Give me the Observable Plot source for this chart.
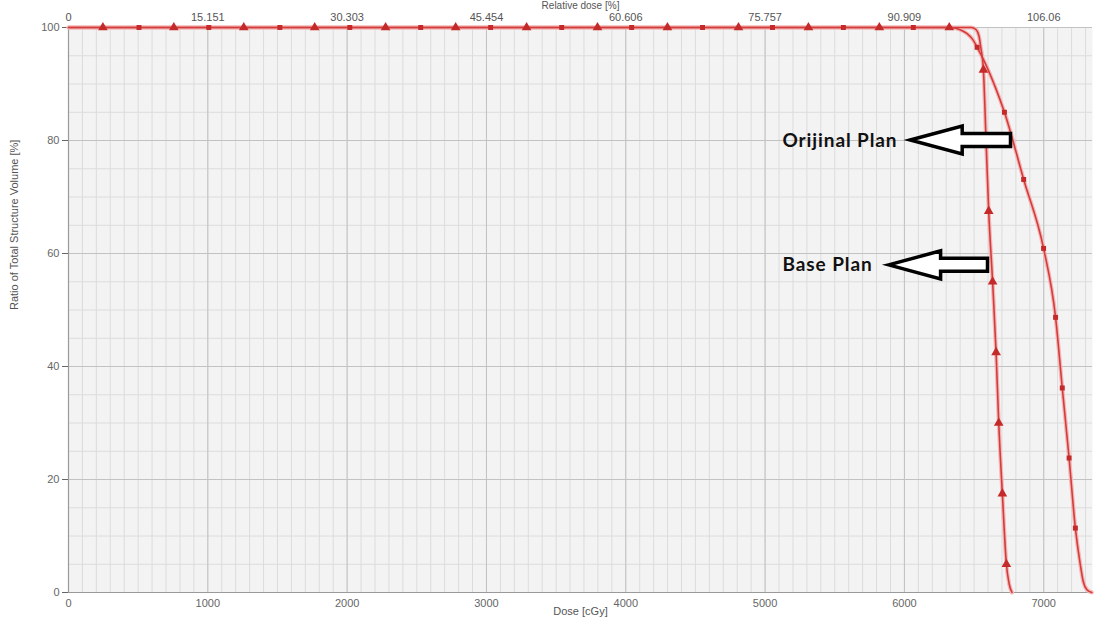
<!DOCTYPE html>
<html>
<head>
<meta charset="utf-8">
<script src="https://cdn.jsdelivr.net/npm/d3@7"></script>
<script src="https://cdn.jsdelivr.net/npm/@observablehq/plot@0.6"></script>
<style>
  html, body { margin: 0; padding: 0; background: #ffffff; }
  #chart svg { display: block; }
</style>
</head>
<body>
<div id="chart"></div>
<script>
// Dose–volume histogram of one structure under two plans.

// Base Plan curve (dose in cGy, volume in %)
const baseDose = [0, 6480, 6515, 6535, 6548, 6567, 6586, 6605, 6633, 6658, 6677, 6703, 6732, 6752, 6772];
const baseVol  = [100, 100, 99.6, 98.5, 96.5, 92.5, 80, 67.5, 55, 42.5, 30, 17.5, 5, 1.5, 0];

// Orijinal Plan curve
const origDose = [0, 6330, 6400, 6450, 6490, 6522, 6564, 6653, 6718, 6856, 6999, 7085, 7133, 7182, 7227, 7262, 7283, 7310, 7345];
const origVol  = [100, 100, 99.6, 98.9, 97.9, 96.5, 94.5, 89.4, 85, 73.1, 60.9, 48.7, 36.2, 23.8, 11.4, 5, 2, 0.5, 0];

// Symbols placed along each curve (triangles: Base Plan, squares: Orijinal Plan)
const baseMarkDose = [247, 756, 1258, 1767, 2276, 2779, 3288, 3797, 4299, 4809, 5311, 5820, 6322,
                      6567, 6586, 6605, 6633, 6658, 6677, 6703, 6732];
const baseMarkVol  = [100, 100, 100, 100, 100, 100, 100, 100, 100, 100, 100, 100, 100,
                      92.5, 80, 67.5, 55, 42.5, 30, 17.5, 5];
const origMarkDose = [506, 1007, 1517, 2019, 2528, 3030, 3540, 4042, 4551, 5053, 5562, 6064,
                      6522, 6718, 6856, 6999, 7085, 7133, 7182, 7227];
const origMarkVol  = [100, 100, 100, 100, 100, 100, 100, 100, 100, 100, 100, 100,
                      96.5, 85, 73.1, 60.9, 48.7, 36.2, 23.8, 11.4];

// Axis ticks
const doseTicks = [0, 1000, 2000, 3000, 4000, 5000, 6000, 7000];
const relDoseLabels = ["0", "15.151", "30.303", "45.454", "60.606", "75.757", "90.909", "106.06"];
const volTicks = [0, 20, 40, 60, 80, 100];

// Callouts: label position and the block arrow running from tip to tail
const noteLabels = ["Orijinal Plan", "Base Plan"];
const noteDose   = [5125, 5125];
const noteVol    = [80, 57.9];
const arrowTip   = [6045, 5890];
const arrowTail  = [6765, 6600];

const rows = (xs, ys) => xs.map((d, i) => ({dose: d, vol: ys[i]}));
const baseLine = rows(baseDose, baseVol);
const origLine = rows(origDose, origVol);
const baseMarks = rows(baseMarkDose, baseMarkVol);
const origMarks = rows(origMarkDose, origMarkVol);
const relTicks = doseTicks.map((d, i) => ({dose: d, label: relDoseLabels[i]}));
const notes = noteLabels.map((t, i) => ({label: t, dose: noteDose[i], vol: noteVol[i], tip: arrowTip[i], tail: arrowTail[i]}));

const lineColor = "#d43c3c";
const haloColor = "#f3b8b8";
const markColor = "#c42a2a";
const tickFont = "'Liberation Sans', Arial, sans-serif";

// Hollow block arrows pointing left at each label
function blockArrows(data) {
  return (index, scales) => {
    const x = scales.x, y = scales.y;
    const g = d3.create("svg:g");
    for (const n of data) {
      const tx = x(n.tip), ex = x(n.tail), cy = y(n.vol);
      const head = 52, hh = 14, sh = 6.5;
      const pts = [[tx, cy], [tx + head, cy - hh], [tx + head, cy - sh], [ex, cy - sh],
                   [ex, cy + sh], [tx + head, cy + sh], [tx + head, cy + hh]];
      g.append("path")
        .attr("d", "M" + pts.map(p => p.join(",")).join("L") + "Z")
        .attr("fill", "#ffffff")
        .attr("stroke", "#000000")
        .attr("stroke-width", 3.5)
        .attr("stroke-linejoin", "miter");
    }
    return g.node();
  };
}

const chart = Plot.plot({
  width: 1097,
  height: 628,
  marginLeft: 68,
  marginRight: 5,
  marginTop: 27,
  marginBottom: 36,
  style: {background: "#ffffff", fontFamily: tickFont, fontSize: "11px", color: "#666"},
  x: {domain: [0, 7350], ticks: doseTicks, tickSize: 0, tickPadding: 7, label: null, tickFormat: d => String(d)},
  y: {domain: [0, 100], ticks: volTicks, tickSize: 6, tickPadding: 3, label: null},
  marks: [
    Plot.frame({fill: "#f3f3f3", stroke: null}),
    // minor grid
    Plot.ruleX(d3.range(100, 7351, 100), {stroke: "#dcdcdc", strokeWidth: 1}),
    Plot.ruleY(d3.range(5, 100, 5), {stroke: "#dcdcdc", strokeWidth: 1}),
    // major grid
    Plot.ruleX(doseTicks.slice(1), {stroke: "#c2c2c2", strokeWidth: 1}),
    Plot.ruleY(volTicks.slice(1), {stroke: "#c2c2c2", strokeWidth: 1}),
    // axis lines
    Plot.ruleX([0], {stroke: "#9a9a9a", strokeWidth: 1.2}),
    Plot.ruleY([0], {stroke: "#9a9a9a", strokeWidth: 1.2}),
    // relative-dose axis along the top
    Plot.text(relTicks, {x: "dose", y: () => 100, text: "label", dy: -10.5, fill: "#555", fontSize: 11}),
    Plot.text(["Relative dose [%]"], {frameAnchor: "top", dy: -26, lineAnchor: "top", fill: "#555", fontSize: 10}),
    Plot.text(["Dose [cGy]"], {frameAnchor: "bottom", dy: 22, fill: "#555", fontSize: 11}),
    Plot.text(["Ratio of Total Structure Volume [%]"], {frameAnchor: "left", dx: -54, rotate: -90, fill: "#555", fontSize: 11}),
    // curves
    Plot.line(origLine, {x: "dose", y: "vol", curve: "monotone-x", stroke: haloColor, strokeWidth: 4}),
    Plot.line(baseLine, {x: "dose", y: "vol", curve: "monotone-x", stroke: haloColor, strokeWidth: 4}),
    Plot.line(origLine, {x: "dose", y: "vol", curve: "monotone-x", stroke: lineColor, strokeWidth: 1.6}),
    Plot.line(baseLine, {x: "dose", y: "vol", curve: "monotone-x", stroke: lineColor, strokeWidth: 1.6}),
    Plot.dot(origMarks, {x: "dose", y: "vol", symbol: "square", r: 2.8, fill: markColor, stroke: null}),
    Plot.dot(baseMarks, {x: "dose", y: "vol", symbol: "triangle", r: 3.6, fill: markColor, stroke: null}),
    // callouts
    blockArrows(notes),
    Plot.text(notes, {x: "dose", y: "vol", text: "label", textAnchor: "start", fontFamily: "Lato, 'Open Sans', sans-serif",
                      fontWeight: "bold", fontSize: 19, fill: "#111111"})
  ]
});

// widen the callout lettering slightly
d3.select(chart).selectAll("text").filter(function() { return noteLabels.includes(this.textContent); })
  .style("letter-spacing", "0.9px");

document.getElementById("chart").appendChild(chart);
</script>
</body>
</html>
